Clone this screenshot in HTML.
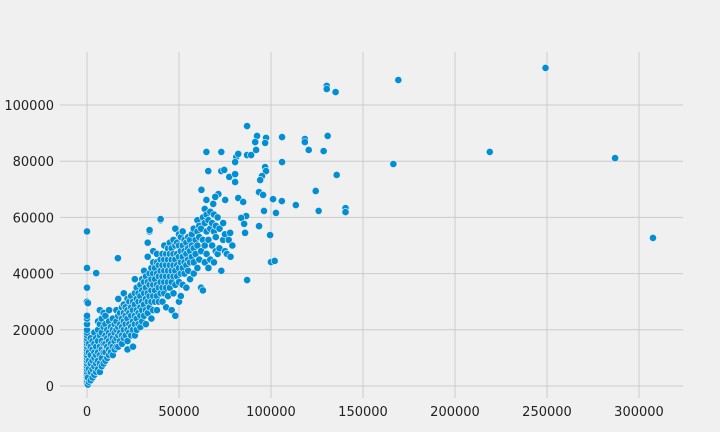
<!DOCTYPE html>
<html><head><meta charset="utf-8"><style>
html,body{margin:0;padding:0;background:#f0f0f0;}
svg{display:block;font-family:"DejaVu Sans","Liberation Sans",sans-serif;}
</style></head><body>
<svg id="chart" width="720" height="432"></svg>
<script>
// data in thousands
const xTicks=[0,50000,100000,150000,200000,250000,300000];
const yTicks=[0,20000,40000,60000,80000,100000];
const xK=[0,0,0,0,0,0,0,0,0,0,0,0,0,0,0,0,0,0,0,0,0,0,0,0,0,0,0,0.5,1,0.5,1,1,1,1,0.5,
2,2,2,2,2,2,3,3,3,3,3,4,4,4,4,4,4,5,5,5,5,5,5,6,6,6,6,6,6,7,7,7,7,7,7,7,8,8,8,8,8,8,9,9,9,9,9,10,10,10,10,10,10,
11,11,11,11,12,12,12,12,12,12,13,13,13,13,14,14,14,14,14,15,15,15,15,16,16,16,16,16,17,17,17,17,17,18,18,18,18,19,19,19,19,19,20,20,20,20,20,20,
21,21,21,21,22,22,22,22,22,22,23,23,23,23,24,24,24,24,24,25,25,25,25,25,26,26,26,26,26,26,27,27,27,27,27,28,28,28,28,29,29,29,29,29,30,30,30,30,30,
31,31,31,31,31,32,32,32,32,32,33,33,33,33,33,33,34,34,34,34,34,35,35,35,35,35,36,36,36,36,36,36,37,37,37,37,38,38,38,38,38,38,39,39,39,39,40,40,40,40,40,
41,41,41,41,41,42,42,42,42,42,43,43,43,43,43,44,44,44,44,44,45,45,45,45,45,46,46,46,46,46,47,47,47,47,47,48,48,48,48,48,48,49,49,49,49,50,50,50,50,50,50,
51,51,51,51,51,52,52,52,52,52,53,53,53,53,54,54,54,54,55,55,55,55,56,56,56,56,57,57,57,58,58,58,58,59,59,60,60,60,60,
61,61,61,62,62,62,63,63,63,64,64,64,64,65,65,65,66,66,66,67,67,67,68,68,69,69,69,70,70,70,71,71,72,72,73,74,74,75,75,76,77,78,79,
249.2,169.2,130.3,130.3,135.1,218.9,287,307.6,166.5,87,92.4,91.4,97.3,96.8,91.9,106,118.4,118.4,120.5,130.8,128.6,64.9,73,81.1,82.2,87,89.2,80.5,106,96.8,97.3,65.9,73,74.6,77.3,80.5,80.5,95.1,94.1,135.7,62.2,71.4,69.7,68.6,64.9,75.1,82.2,84.9,93.5,95.7,101.1,105.9,113.5,124.3,140.5,140.5,125.9,96.2,102.7,86.5,83.8,85.4,93.5,85.9,77.8,99.5,100,102,87,5,16.8,40,34];
const yK=[1,2,3,4,5,6,7,8,9,10,11,12,13,14,15,16,17,18,19,20,22,24,25,30,35,42,55,0.5,1.5,3,6,9,12,15,29.5,
2,5,8,11,14,17,3,6,9,13,16,4,7,10,12,15,19,5,8,11,14,17,40,6,9,12,16,20,23,5,8,11,14,18,22,27,7,10,13,16,19,24,8,12,15,21,26,9,12,15,18,22,25,
10,14,17,20,11,13,16,19,23,27,12,15,18,21,11,14,17,20,24,13,16,19,22,14,17,20,23,27,14,18,21,25,31,16,19,22,26,15,18,21,24,28,17,20,23,26,29,33,
18,22,25,28,13,16,20,24,27,31,19,22,26,30,18,21,25,28,32,14,20,23,27,30,18,22,25,29,33,38,20,24,27,31,35,22,26,30,33,21,25,28,32,36,23,27,30,34,38,
25,29,33,37,41,22,27,31,35,39,26,30,33,37,46,51,28,32,36,40,55,24,30,34,38,42,27,32,36,40,44,48,30,34,38,42,27,32,36,40,44,47,30,35,39,43,33,37,41,45,59,
30,35,39,43,47,33,37,41,45,50,28,35,39,43,47,32,37,41,45,49,35,39,43,47,51,27,37,41,45,49,33,39,43,47,52,25,36,41,45,50,56,39,43,47,51,30,37,42,46,50,54,
32,40,44,48,53,36,42,46,50,55,40,44,48,52,35,43,47,51,41,45,49,53,38,44,48,52,46,50,54,40,44,49,56,47,52,42,50,55,59,
45,53,57,35,48,56,34,52,60,44,50,58,63,47,55,61,42,52,59,45,56,62,50,58,44,55,61,48,53,57,47,60,49,56,41,52,58,48,54,47,52,46,50,
113.2,108.9,106.8,105.7,104.6,83.3,81.1,52.7,79,92.5,89,86.8,88.3,86.5,84,88.6,87.9,86.8,84,89,83.6,83.3,83.3,81.5,82.6,82.2,82.2,79.7,79.7,77.9,76.5,76.5,76.5,76.9,74.4,75.4,72.6,74.7,73.3,75.1,69.8,68.3,67.3,64.8,66.2,66.2,66.9,65.5,69,68,66.5,65.8,64.4,69.4,63.3,61.9,62.3,62.3,61.6,60.5,59.8,57.7,56.9,54.5,54.5,53.7,44.1,44.5,37.7,40.2,45.5,59.4,55.5];
const NS="http://www.w3.org/2000/svg";
const svg=document.getElementById('chart');
const X0=87,XS=552/300000,Y0=386,YS=281/100000;
const sx=v=>X0+v*XS, sy=v=>Y0-v*YS;
function mk(t,a){const e=document.createElementNS(NS,t);for(const k in a)e.setAttribute(k,a[k]);svg.appendChild(e);return e;}
xTicks.forEach(v=>{
  const l=mk('line',{x1:sx(v),x2:sx(v),y1:52,y2:398,stroke:'#cbcbcb','stroke-width':1});
  
  
  const t=mk('text',{x:sx(v),y:416,'text-anchor':'middle','font-size':13,fill:'#222'});
  t.textContent=v;
  
  
});
yTicks.forEach(v=>{
  const l=mk('line',{x1:60,x2:683,y1:sy(v),y2:sy(v),stroke:'#cbcbcb','stroke-width':1});
  
  
  const t=mk('text',{x:54,y:sy(v)+5,'text-anchor':'end','font-size':13,fill:'#222'});
  t.textContent=v;
  
  
});
for(let i=0;i<xK.length;i++){
  const c=mk('circle',{cx:sx(xK[i]*1000),cy:sy(yK[i]*1000),r:3.6,fill:'#008fd5',stroke:'#f0f0f0','stroke-width':0.6});
  
  
}
</script>
</body></html>
